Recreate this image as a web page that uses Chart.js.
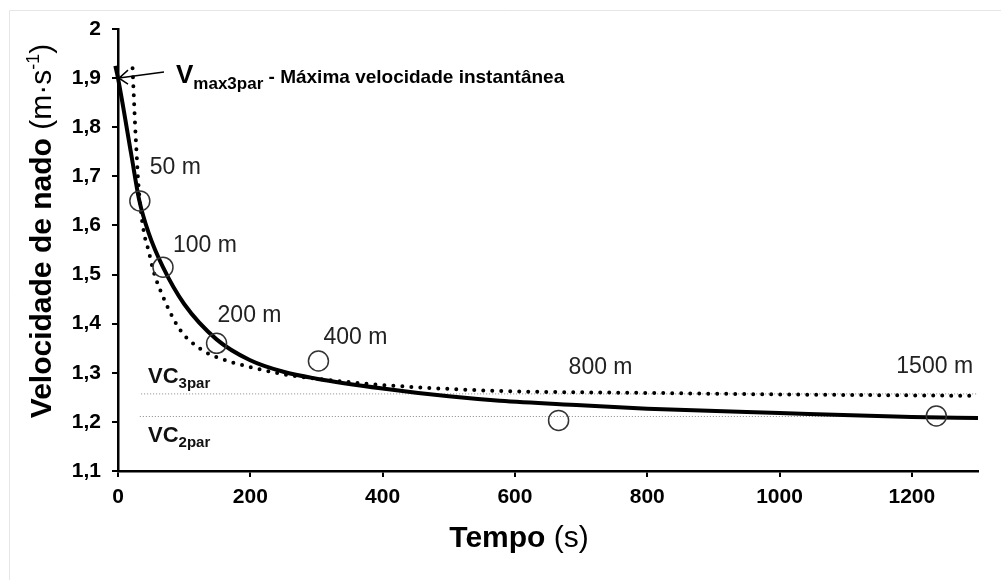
<!DOCTYPE html>
<html lang="pt">
<head>
<meta charset="UTF-8">
<title>Velocidade de nado</title>
<script src="https://cdn.jsdelivr.net/npm/chart.js"></script>
<style>
  body { margin: 0; background: #fff; }
  #wrap { width: 1001px; height: 580px; }
</style>
</head>
<body>
<div id="wrap"><canvas id="chart" width="1001" height="580"></canvas></div>
<script>
// races (circles)
const distances = ['50 m', '100 m', '200 m', '400 m', '800 m', '1500 m'];
const raceTimes = [33, 68, 149, 303, 666, 1237];
const raceSpeeds = [1.650, 1.515, 1.360, 1.324, 1.203, 1.212];

// solid curve (2 par)
const fit2Times = [-4, 0, 20, 32, 46, 68, 100, 149, 199, 250, 300, 400, 500, 577, 700, 800, 1000, 1200, 1300];
const fit2Speeds = [1.925, 1.90, 1.745, 1.652, 1.586, 1.515, 1.44, 1.368, 1.326, 1.302, 1.288, 1.268, 1.252, 1.243, 1.234, 1.227, 1.218, 1.210, 1.208];

// dotted curve (3 par)
const fit3Times = [22, 24, 26, 28, 30.5, 35, 40, 46, 53, 68, 94, 124, 149, 199, 250, 300, 350, 400, 577, 800, 1000, 1300];
const fit3Speeds = [1.92, 1.86, 1.80, 1.75, 1.69, 1.625, 1.58, 1.55, 1.51, 1.455, 1.387, 1.349, 1.332, 1.312, 1.297, 1.288, 1.281, 1.275, 1.263, 1.259, 1.256, 1.253];

// critical velocities
const vc3par = 1.257;
const vc2par = 1.211;
const vcFrom = [35, 33];
const vmax3par = 1.9;

const xTicks = [0, 200, 400, 600, 800, 1000, 1200];
const yTicks = [1.1, 1.2, 1.3, 1.4, 1.5, 1.6, 1.7, 1.8, 1.9, 2.0];
const yTickLabels = ['1,1', '1,2', '1,3', '1,4', '1,5', '1,6', '1,7', '1,8', '1,9', '2'];

const pts = (xs, ys) => xs.map((v, i) => ({ x: v, y: ys[i] }));
const FONT = '"Liberation Sans", Arial, sans-serif';

// draw a row of text pieces with different fonts
function drawRuns(ctx, parts, x, y, align) {
  let total = 0;
  parts.forEach(p => { ctx.font = p.font; p.w = ctx.measureText(p.t).width; total += p.w; });
  let cx = align === 'center' ? x - total / 2 : x;
  ctx.textAlign = 'left';
  ctx.textBaseline = 'alphabetic';
  parts.forEach(p => {
    ctx.font = p.font;
    ctx.fillText(p.t, cx, y + (p.dy || 0));
    cx += p.w;
  });
}

const extras = {
  id: 'extras',
  beforeDraw(chart) {
    const ctx = chart.ctx;
    ctx.save();
    ctx.strokeStyle = '#e6e6e6';
    ctx.lineWidth = 1;
    ctx.beginPath();
    ctx.moveTo(9.5, 580); ctx.lineTo(9.5, 10.5); ctx.lineTo(1001, 10.5);
    ctx.stroke();
    ctx.restore();
  },
  afterDraw(chart) {
    const { ctx, scales: { x, y } } = chart;
    ctx.save();
    ctx.fillStyle = '#000';

    // axis titles
    drawRuns(ctx, [
      { t: 'Tempo ', font: 'bold 30px ' + FONT },
      { t: '(s)', font: '30px ' + FONT }
    ], 519, 547, 'center');

    ctx.save();
    ctx.translate(51, 231);
    ctx.rotate(-Math.PI / 2);
    drawRuns(ctx, [
      { t: 'Velocidade de nado ', font: 'bold 30px ' + FONT },
      { t: '(m\u00b7s', font: '30px ' + FONT },
      { t: '-1', font: '18px ' + FONT, dy: -12 },
      { t: ')', font: '30px ' + FONT }
    ], 0, 0, 'center');
    ctx.restore();

    // distance labels
    const offs = [[10, -33], [10, -22], [1, -28], [5, -23], [10, -53], [-40, -49]];
    ctx.fillStyle = '#222';
    ctx.font = '23px ' + FONT;
    ctx.textAlign = 'left';
    ctx.textBaseline = 'middle';
    distances.forEach((d, i) => {
      const px = x.getPixelForValue(raceTimes[i]);
      const py = y.getPixelForValue(raceSpeeds[i]);
      ctx.fillText(d, px + offs[i][0], py + offs[i][1]);
    });

    // VC labels
    ctx.fillStyle = '#111';
    drawRuns(ctx, [
      { t: 'VC', font: 'bold 22px ' + FONT },
      { t: '3par', font: 'bold 15px ' + FONT, dy: 5 }
    ], 148, y.getPixelForValue(vc3par) - 11, 'left');
    drawRuns(ctx, [
      { t: 'VC', font: 'bold 22px ' + FONT },
      { t: '2par', font: 'bold 15px ' + FONT, dy: 5 }
    ], 148, y.getPixelForValue(vc2par) + 26, 'left');

    // Vmax annotation with arrow
    const tx = x.getPixelForValue(0) + 1;
    const ty = y.getPixelForValue(vmax3par);
    ctx.strokeStyle = '#000';
    ctx.lineWidth = 1.5;
    ctx.beginPath();
    ctx.moveTo(tx + 45, ty - 6);
    ctx.lineTo(tx, ty);
    ctx.moveTo(tx + 9, ty - 8);
    ctx.lineTo(tx, ty);
    ctx.lineTo(tx + 9, ty + 6);
    ctx.stroke();
    ctx.fillStyle = '#000';
    drawRuns(ctx, [
      { t: 'V', font: 'bold 26px ' + FONT },
      { t: 'max3par', font: 'bold 17px ' + FONT, dy: 6 },
      { t: ' - M\u00e1xima velocidade instant\u00e2nea', font: 'bold 19px ' + FONT }
    ], tx + 57, ty + 5, 'left');

    ctx.restore();
  }
};

new Chart(document.getElementById('chart'), {
  type: 'scatter',
  data: {
    datasets: [
      {
        data: pts(raceTimes, raceSpeeds),
        showLine: false,
        pointRadius: 10,
        pointBorderWidth: 1.5,
        pointBorderColor: '#333',
        pointBackgroundColor: 'rgba(0,0,0,0)'
      },
      {
        data: pts(fit2Times, fit2Speeds),
        showLine: true,
        pointRadius: 0,
        borderColor: '#000',
        borderWidth: 4,
        cubicInterpolationMode: 'monotone',
        clip: false
      },
      {
        data: pts(fit3Times, fit3Speeds),
        showLine: true,
        pointRadius: 0,
        borderColor: '#000',
        borderWidth: 4,
        borderDash: [0, 9],
        borderCapStyle: 'round',
        cubicInterpolationMode: 'monotone'
      },
      {
        data: [{ x: vcFrom[0], y: vc3par }, { x: 1300, y: vc3par }],
        showLine: true,
        pointRadius: 0,
        borderColor: '#888',
        borderWidth: 1,
        borderDash: [1, 2]
      },
      {
        data: [{ x: vcFrom[1], y: vc2par }, { x: 1300, y: vc2par }],
        showLine: true,
        pointRadius: 0,
        borderColor: '#888',
        borderWidth: 1,
        borderDash: [1, 2]
      }
    ]
  },
  options: {
    responsive: false,
    animation: false,
    devicePixelRatio: 1,
    layout: { padding: { top: 29, right: 23, left: 0, bottom: 0 } },
    plugins: { legend: { display: false }, tooltip: { enabled: false } },
    scales: {
      x: {
        type: 'linear',
        min: 0,
        max: 1300,
        border: { color: '#000', width: 2.5 },
        grid: { drawOnChartArea: false, color: '#000', lineWidth: 2, tickLength: 6 },
        ticks: {
          font: { family: FONT, size: 21, weight: 'bold' },
          color: '#000',
          padding: 8,
          maxRotation: 0,
          callback: v => String(v)
        },
        afterBuildTicks: s => { s.ticks = xTicks.map(v => ({ value: v })); },
        afterFit: s => { s.height = 109; }
      },
      y: {
        min: 1.1,
        max: 2,
        border: { color: '#000', width: 2.5 },
        grid: { drawOnChartArea: false, color: '#000', lineWidth: 2, tickLength: 6 },
        ticks: {
          font: { family: FONT, size: 21, weight: 'bold' },
          color: '#000',
          padding: 11,
          callback: (v, i) => yTickLabels[i]
        },
        afterBuildTicks: s => { s.ticks = yTicks.map(v => ({ value: v })); },
        afterFit: s => { s.width = 118; }
      }
    }
  },
  plugins: [extras]
});
</script>
</body>
</html>
